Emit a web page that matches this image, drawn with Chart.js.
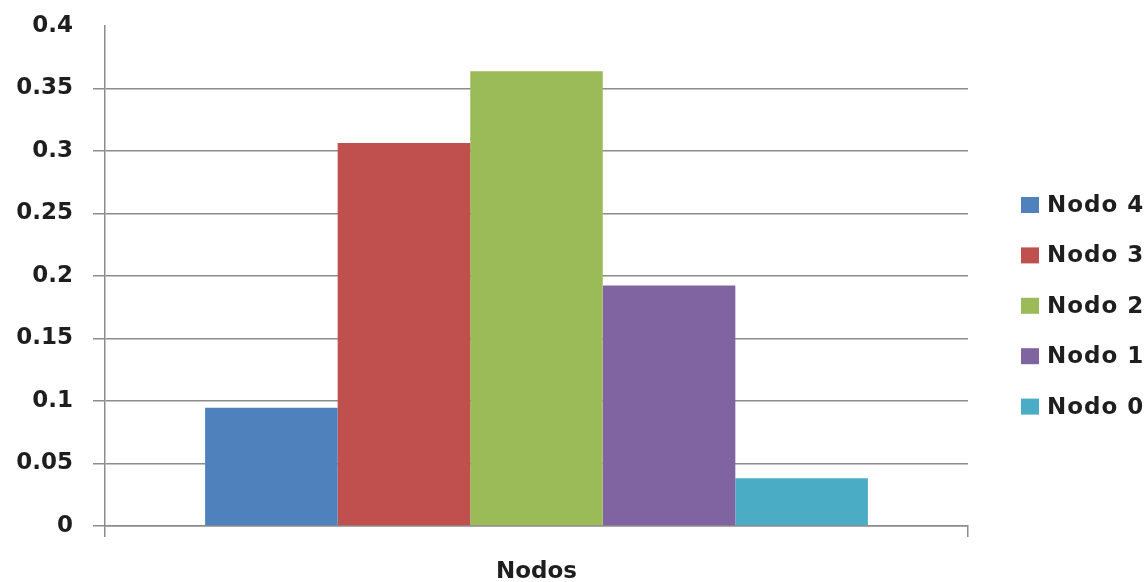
<!DOCTYPE html>
<html>
<head>
<meta charset="utf-8">
<script src="https://cdn.jsdelivr.net/npm/chart.js@4/dist/chart.umd.min.js"></script>
<style>
    html, body { margin: 0; padding: 0; background: #ffffff; }
    #wrap { width: 1148px; height: 582px; }
</style>
</head>
<body>
<div id="wrap"><canvas id="barchart" width="1148" height="582"></canvas></div>
<script>
// values
const categories = ['Nodos']
const seriesNames = ['Nodo 4', 'Nodo 3', 'Nodo 2', 'Nodo 1', 'Nodo 0']
const nodo4 = [0.0947]
const nodo3 = [0.3065]
const nodo2 = [0.3638]
const nodo1 = [0.1925]
const nodo0 = [0.0383]
const seriesColors = ['#4F81BD', '#C0504D', '#9BBB59', '#8064A2', '#4BACC6']
const yMin = 0
const yMax = 0.4
const yStep = 0.05

const gridColor = '#8c8c8c'
const textColor = '#1e1e1e'
const fontFamily = '"DejaVu Sans", Verdana, sans-serif'

const seriesValues = [nodo4, nodo3, nodo2, nodo1, nodo0]
const datasets = []
for (let i = 0; i < seriesNames.length; i++) {
    datasets.push({
        label: seriesNames[i],
        data: seriesValues[i],
        backgroundColor: seriesColors[i],
        borderWidth: 0,
        categoryPercentage: 0.768,
        barPercentage: 1.0
    })
}

// legend drawn on the right, like the original spreadsheet chart
const sideLegend = {
    id: 'sideLegend',
    afterDraw(chart) {
        const c = chart.ctx
        c.save()
        c.font = 'bold 23px ' + fontFamily
        c.textBaseline = 'middle'
        c.textAlign = 'left'
        if ('letterSpacing' in c) c.letterSpacing = '1px'
        chart.data.datasets.forEach((ds, i) => {
            const y = 205 + i * 50.4
            c.fillStyle = ds.backgroundColor
            c.fillRect(1021, y - 8, 18, 16)
            c.fillStyle = textColor
            c.fillText(ds.label, 1047, y + 1)
        })
        c.restore()
    }
}

const ctx = document.getElementById('barchart').getContext('2d')
const barchart = new Chart(ctx, {
    type: 'bar',
    data: {
        labels: categories,
        datasets: datasets
    },
    options: {
        responsive: false,
        animation: false,
        layout: {
            padding: { top: 26, right: 180, left: 0, bottom: 0 }
        },
        plugins: {
            legend: { display: false },
            tooltip: { enabled: false }
        },
        scales: {
            x: {
                afterFit: (scale) => { scale.height = 56 },
                grid: {
                    offset: true,
                    drawOnChartArea: false,
                    color: gridColor,
                    lineWidth: 1.5,
                    tickLength: 11
                },
                border: { color: gridColor, width: 1.5 },
                ticks: {
                    color: textColor,
                    padding: 21,
                    font: { family: fontFamily, size: 23, weight: 'bold' }
                }
            },
            y: {
                min: yMin,
                max: yMax,
                afterFit: (scale) => {
                    scale.width = 105
                    scale.paddingTop = 0
                    scale.paddingBottom = 0
                },
                grid: {
                    color: (c) => (c.tick && c.tick.value >= yMax - 0.001) ? 'rgba(0,0,0,0)' : gridColor,
                    lineWidth: 1.5,
                    tickLength: 12
                },
                border: { color: gridColor, width: 1.5 },
                ticks: {
                    stepSize: yStep,
                    color: textColor,
                    padding: 20,
                    font: { family: fontFamily, size: 23, weight: 'bold' },
                    callback: (v) => String(+v.toFixed(2))
                }
            }
        }
    },
    plugins: [sideLegend]
})
</script>
</body>
</html>
